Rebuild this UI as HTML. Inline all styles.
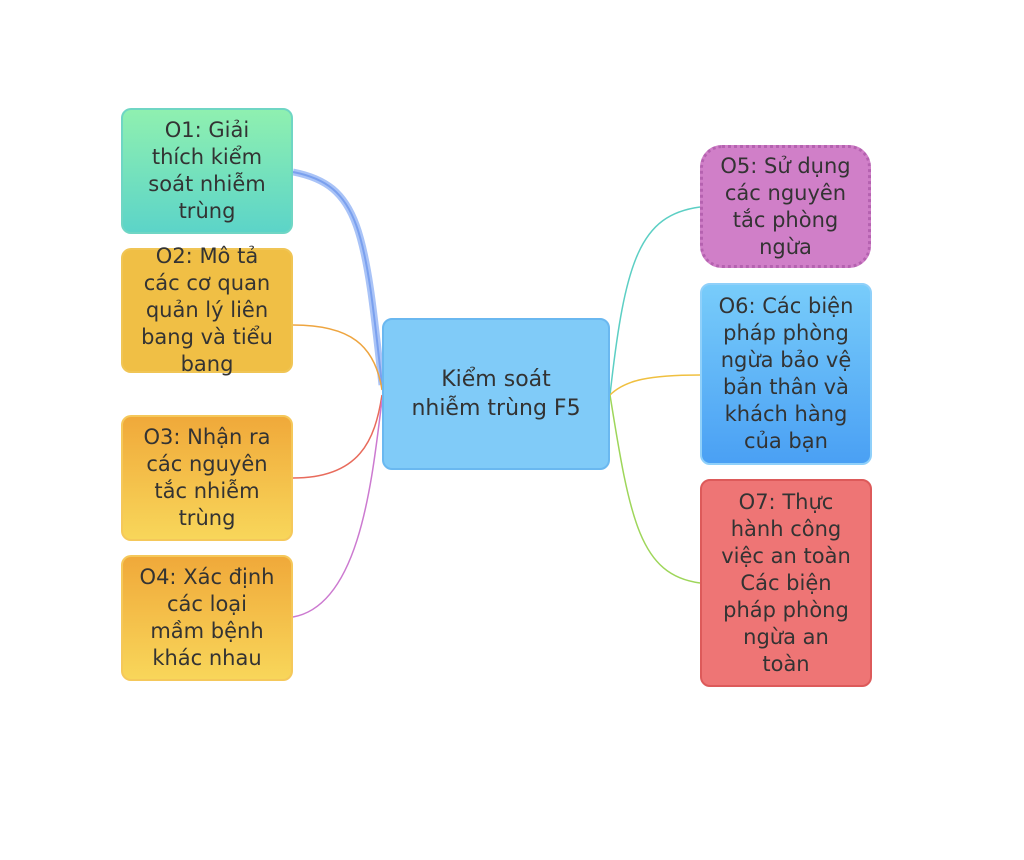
<!DOCTYPE html>
<html><head><meta charset="utf-8"><style>
body{margin:0;width:1024px;height:860px;background:#fff;position:relative;font-family:"DejaVu Sans","Liberation Sans",sans-serif;overflow:hidden}
.b{position:absolute;box-sizing:border-box;border-radius:10px;display:flex;align-items:center;justify-content:center;text-align:center;color:#333;font-size:21px;line-height:27px;border:2px solid}
svg{position:absolute;left:0;top:0}
</style></head><body>
<svg width="1024" height="860">
<path d="M293,172 C360,185 365,230 382,385" stroke="#a9c3f7" stroke-width="7" fill="none"/>
<path d="M293,172 C360,185 365,230 382,385" stroke="#7aa0ee" stroke-width="2" fill="none"/>
<path d="M293,325 C350,325 375,345 382,390" stroke="#eea540" stroke-width="1.5" fill="none"/>
<path d="M293,478 C360,478 375,440 382,395" stroke="#e86b5c" stroke-width="1.5" fill="none"/>
<path d="M293,617 C360,605 372,480 382,400" stroke="#cc7ad0" stroke-width="1.5" fill="none"/>
<path d="M610,395 C625,260 640,215 700,207" stroke="#5ccfc4" stroke-width="1.5" fill="none"/>
<path d="M610,395 C625,380 650,375 700,375" stroke="#f0c040" stroke-width="1.5" fill="none"/>
<path d="M610,395 C630,520 640,575 700,583" stroke="#9ed65a" stroke-width="1.5" fill="none"/>
</svg>
<div class="b" style="left:121px;top:108px;width:172px;height:126px;background:linear-gradient(#8ff0b0,#5cd4c8);border-color:#6fd6c4">O1: Giải<br>thích kiểm<br>soát nhiễm<br>trùng</div>
<div class="b" style="left:121px;top:248px;width:172px;height:125px;background:#f0bf45;border-color:#f0c555">O2: Mô tả<br>các cơ quan<br>quản lý liên<br>bang và tiểu<br>bang</div>
<div class="b" style="left:121px;top:415px;width:172px;height:126px;background:linear-gradient(#f0a93a,#f8d65a);border-color:#f5c85a">O3: Nhận ra<br>các nguyên<br>tắc nhiễm<br>trùng</div>
<div class="b" style="left:121px;top:555px;width:172px;height:126px;background:linear-gradient(#f0a93a,#f8d65a);border-color:#f5c85a">O4: Xác định<br>các loại<br>mầm bệnh<br>khác nhau</div>
<div class="b" style="left:382px;top:318px;width:228px;height:152px;background:#80cbf8;border-color:#6ab8f0;font-size:22px;line-height:29px">Kiểm soát<br>nhiễm trùng F5</div>
<div class="b" style="left:700px;top:145px;width:171px;height:123px;background:#d07fc8;border:3px dotted #b562b0;border-radius:22px">O5: Sử dụng<br>các nguyên<br>tắc phòng<br>ngừa</div>
<div class="b" style="left:700px;top:283px;width:172px;height:182px;background:linear-gradient(#78ccfa,#4aa0f4);border-color:#8fd0fa">O6: Các biện<br>pháp phòng<br>ngừa bảo vệ<br>bản thân và<br>khách hàng<br>của bạn</div>
<div class="b" style="left:700px;top:479px;width:172px;height:208px;background:#ee7575;border-color:#dd5a5a">O7: Thực<br>hành công<br>việc an toàn<br>Các biện<br>pháp phòng<br>ngừa an<br>toàn</div>
</body></html>
